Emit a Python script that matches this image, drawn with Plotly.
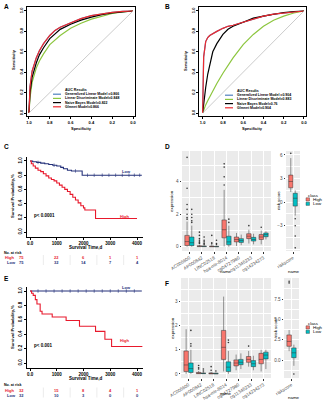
import plotly.graph_objects as go

W, H = 323, 400
FONT = "Liberation Sans, Arial, sans-serif"

# ---------------- ROC data (A, B) ----------------
spec = [1.0, 0.99, 0.97, 0.95, 0.93, 0.90, 0.86, 0.80, 0.75, 0.70, 0.60, 0.50, 0.40, 0.30, 0.20, 0.10, 0.0]
model_names = ["Generalized Linear Model ", "Linear Discriminate Model", "Naive Bayes Model", "Glmnet Model"]
model_colors = ["#4F81BD", "#8CC63E", "#000000", "#EE2A2F"]
auc_a = ["0.866", "0.848", "0.822", "0.866"]
auc_b = ["0.904", "0.883", "0.76", "0.904"]
sens_a_glm = [0, 0.26, 0.41, 0.48, 0.54, 0.61, 0.68, 0.76, 0.81, 0.84, 0.885, 0.925, 0.955, 0.972, 0.987, 0.996, 1.0]
sens_a_lda = [0, 0.15, 0.30, 0.38, 0.44, 0.51, 0.58, 0.67, 0.72, 0.76, 0.83, 0.88, 0.92, 0.95, 0.975, 0.99, 1.0]
sens_a_nb = [0, 0.20, 0.35, 0.43, 0.49, 0.57, 0.64, 0.73, 0.78, 0.82, 0.87, 0.91, 0.94, 0.965, 0.98, 0.993, 1.0]
sens_a_glmnet = [0, 0.26, 0.41, 0.48, 0.54, 0.61, 0.68, 0.76, 0.81, 0.84, 0.885, 0.925, 0.955, 0.972, 0.987, 0.996, 1.0]
sens_b_glm = [0, 0.55, 0.70, 0.74, 0.76, 0.78, 0.80, 0.83, 0.85, 0.86, 0.89, 0.92, 0.95, 0.97, 0.98, 0.995, 1.0]
sens_b_lda = [0, 0.03, 0.08, 0.12, 0.16, 0.22, 0.29, 0.39, 0.47, 0.54, 0.67, 0.77, 0.85, 0.91, 0.95, 0.98, 1.0]
sens_b_nb = [0, 0.10, 0.25, 0.38, 0.48, 0.60, 0.68, 0.77, 0.82, 0.85, 0.89, 0.93, 0.95, 0.97, 0.985, 0.995, 1.0]
sens_b_glmnet = [0, 0.55, 0.70, 0.74, 0.76, 0.78, 0.80, 0.83, 0.85, 0.86, 0.89, 0.92, 0.95, 0.97, 0.98, 0.995, 1.0]
roc_ticks = [1.0, 0.8, 0.6, 0.4, 0.2, 0.0]
roc_ticktext = ["1.0", "0.8", "0.6", "0.4", "0.2", "0.0"]
roc_yticks = [0.0, 0.2, 0.4, 0.6, 0.8, 1.0]
roc_yticktext = ["0.0", "0.2", "0.4", "0.6", "0.8", "1.0"]

# ---------------- KM data (C, E) ----------------
km_c_high_t = [0, 50, 120, 200, 300, 400, 500, 600, 700, 800, 900, 1000, 1100, 1200, 1300, 1400,
               1500, 1600, 1700, 1800, 1900, 2000, 2050, 2450, 4000]
km_c_high_s = [1.0, 0.96, 0.93, 0.90, 0.87, 0.85, 0.82, 0.79, 0.76, 0.74, 0.72, 0.69, 0.66, 0.63, 0.60, 0.57,
               0.53, 0.49, 0.45, 0.41, 0.37, 0.34, 0.31, 0.19, 0.19]
km_c_low_t = [0, 100, 250, 400, 550, 700, 850, 1000, 1150, 1250, 1400, 1550, 1950, 4180]
km_c_low_s = [1.0, 0.99, 0.98, 0.97, 0.96, 0.95, 0.94, 0.93, 0.91, 0.89, 0.87, 0.86, 0.80, 0.80]
km_c_low_cens_t = [300, 900, 1700, 2150, 2400, 2700, 2950, 3200, 3450, 3700, 3900, 4100]
km_c_low_cens_s = [0.98, 0.94, 0.86, 0.80, 0.80, 0.80, 0.80, 0.80, 0.80, 0.80, 0.80, 0.80]
km_e_high_t = [0, 60, 120, 200, 260, 380, 450, 830, 1350, 1850, 2450, 2800, 3050, 4200]
km_e_high_s = [1.0, 0.97, 0.94, 0.88, 0.82, 0.72, 0.68, 0.64, 0.59, 0.51, 0.44, 0.33, 0.23, 0.23]
km_e_low_t = [0, 4180]
km_e_low_s = [1.0, 1.0]
km_e_low_cens_t = [300, 600, 900, 1200, 1500, 1800, 2100, 2400, 2700, 3000, 3300, 3600, 3900]
km_e_low_cens_s = [1.0] * 13
km_xticks = [0, 1000, 2000, 3000, 4000]
km_xticktext = ["0.0", "1000", "2000", "3000", "4000"]
km_yticks = [0.0, 0.2, 0.4, 0.6, 0.8, 1.0]
km_yticktext = ["0.0", "0.2", "0.4", "0.6", "0.8", "1.0"]
risk_c_high = [75, 22, 6, 1, 1]
risk_c_low = [75, 32, 14, 7, 4]
risk_e_high = [32, 15, 8, 4, 1]
risk_e_low = [32, 10, 3, 0, 0]
pval_c = "p< 0.0001"
pval_e = "p< 0.001"

# ---------------- Boxplot data (D, F) ----------------
genes = ["AC006600", "AP000842", "LINC02518", "hsa-mir-8014", "cg04727980", "cg11346233", "cg14234273"]
# each: [lowerfence, q1, median, q3, upperfence]
d_high = [[0.0, 0.08, 0.32, 0.70, 1.55], [0.0, 0.01, 0.03, 0.06, 0.12], [0.0, 0.0, 0.02, 0.04, 0.09],
          [0.02, 0.55, 1.05, 1.65, 3.5], [0.05, 0.30, 0.45, 0.60, 0.85], [0.20, 0.50, 0.65, 0.80, 1.05],
          [0.15, 0.45, 0.60, 0.75, 1.0]]
d_low = [[0.0, 0.07, 0.25, 0.60, 1.3], [0.0, 0.01, 0.02, 0.05, 0.10], [0.0, 0.0, 0.01, 0.03, 0.07],
         [0.0, 0.12, 0.30, 0.65, 1.3], [0.10, 0.27, 0.38, 0.50, 0.75], [0.15, 0.35, 0.45, 0.58, 0.80],
         [0.45, 0.62, 0.75, 0.85, 0.95]]
d_high_out = [[5.5, 3.6, 2.6, 2.3, 2.0, 1.8, 1.7], [0.9, 0.7, 0.5, 0.4, 0.3, 0.25, 0.2], [0.7, 0.25, 0.18],
              [5.1, 4.9, 4.3, 3.8], [], [1.3], [1.2]]
d_low_out = [[2.3, 2.0, 1.8, 1.6, 1.5], [0.6, 0.4, 0.3, 0.2, 0.15], [0.4, 0.2, 0.15], [1.7, 1.5], [], [], []]
d_risk_high = [1.3, 1.83, 2.63, 3.44, 5.6]
d_risk_low = [-1.7, -0.5, 0.5, 1.13, 1.5]
d_risk_high_out = [6.2]
d_risk_low_out = [-2.1, -3.0, -4.3, -5.8]

f_high = [[0.0, 0.10, 0.37, 0.95, 1.85], [0.0, 0.01, 0.03, 0.06, 0.12], [0.0, 0.0, 0.02, 0.04, 0.08],
          [0.10, 0.60, 1.10, 1.80, 3.2], [0.15, 0.33, 0.45, 0.58, 0.80], [0.30, 0.48, 0.60, 0.72, 0.95],
          [0.10, 0.42, 0.60, 0.85, 1.0]]
f_low = [[0.0, 0.06, 0.22, 0.45, 1.0], [0.0, 0.01, 0.02, 0.04, 0.08], [0.0, 0.0, 0.01, 0.03, 0.06],
         [0.0, 0.10, 0.28, 0.50, 0.95], [0.20, 0.38, 0.48, 0.60, 0.85], [0.15, 0.30, 0.42, 0.55, 0.75],
         [0.20, 0.62, 0.78, 0.90, 1.0]]
f_high_out = [[], [0.35, 0.25, 0.2], [0.3, 0.15], [], [], [1.15], []]
f_low_out = [[1.8, 1.25, 1.15], [0.2, 0.12], [0.12], [1.4, 1.3], [], [], []]
f_risk_high = [1.1, 1.7, 2.3, 3.1, 3.7]
f_risk_low = [-0.7, 0.3, 0.9, 1.5, 1.9]
f_risk_high_out = [9.7, 9.5]
f_risk_low_out = [-1.7]

classes = ["High", "Low"]
class_colors = ["#F8766D", "#00BFC4"]
km_colors = {"High": "#E8192C", "Low": "#24317A"}

# ---------------- helpers ----------------
def fx(p):
    return p / W


def fy(p):
    return 1 - p / H


fig = go.Figure()
annotations = []
shapes = []


def txt(text, x, y, size=4.5, color="black", bold=True, xanchor="center", yanchor="middle", angle=0,
        xref="paper", yref="paper", xshift=0):
    annotations.append(dict(
        text=text, x=x if xref != "paper" else fx(x), y=fy(y) if yref == "paper" else y,
        xref=xref, yref=yref, showarrow=False, xanchor=xanchor, yanchor=yanchor, textangle=angle,
        xshift=xshift,
        font=dict(family=FONT, size=size, color=color, weight="bold" if bold else "normal")))


# ---------------- ROC panels ----------------
roc_sets = [
    ("x", "y", [sens_a_glm, sens_a_lda, sens_a_nb, sens_a_glmnet]),
    ("x2", "y2", [sens_b_glm, sens_b_lda, sens_b_nb, sens_b_glmnet]),
]
for xa, ya, sens_list in roc_sets:
    shapes.append(dict(type="line", xref=xa, yref=ya, x0=1, y0=0, x1=0, y1=1,
                       line=dict(color="#BEBEBE", width=0.8)))
    for sens, col in zip(sens_list, model_colors):
        fig.add_trace(go.Scatter(x=spec, y=sens, mode="lines", xaxis=xa, yaxis=ya,
                                 line=dict(color=col, width=1.2), showlegend=False, hoverinfo="skip"))

# ---------------- KM panels ----------------
def km(xa, ya, t, s, color):
    fig.add_trace(go.Scatter(x=t, y=s, mode="lines", line=dict(color=color, width=1.1, shape="hv"),
                             xaxis=xa, yaxis=ya, showlegend=False, hoverinfo="skip"))


km("x3", "y3", km_c_low_t, km_c_low_s, km_colors["Low"])
km("x3", "y3", km_c_high_t, km_c_high_s, km_colors["High"])
fig.add_trace(go.Scatter(x=km_c_low_cens_t, y=km_c_low_cens_s, mode="markers", xaxis="x3", yaxis="y3",
                         marker=dict(symbol="line-ns", size=2.5, line=dict(color=km_colors["Low"], width=0.6)),
                         showlegend=False, hoverinfo="skip"))
km("x4", "y4", km_e_low_t, km_e_low_s, km_colors["Low"])
km("x4", "y4", km_e_high_t, km_e_high_s, km_colors["High"])
fig.add_trace(go.Scatter(x=km_e_low_cens_t, y=km_e_low_cens_s, mode="markers", xaxis="x4", yaxis="y4",
                         marker=dict(symbol="line-ns", size=2.5, line=dict(color=km_colors["Low"], width=0.6)),
                         showlegend=False, hoverinfo="skip"))

# ---------------- Box panels ----------------
gene_pos = list(range(1, len(genes) + 1))
dodge = 0.19


def boxes(xa, ya, positions, stats, outs, color):
    fig.add_trace(go.Box(
        x=positions, lowerfence=[s[0] for s in stats], q1=[s[1] for s in stats],
        median=[s[2] for s in stats], q3=[s[3] for s in stats], upperfence=[s[4] for s in stats],
        xaxis=xa, yaxis=ya, width=0.36, whiskerwidth=0, fillcolor=color,
        line=dict(color="#333333", width=0.5), boxpoints=False, showlegend=False, hoverinfo="skip"))
    ox, oy = [], []
    for p, o in zip(positions, outs):
        ox += [p] * len(o)
        oy += o
    fig.add_trace(go.Scatter(x=ox, y=oy, mode="markers", xaxis=xa, yaxis=ya,
                             marker=dict(size=1.6, color="#333333"), showlegend=False, hoverinfo="skip"))


pos_high = [p - dodge for p in gene_pos]
pos_low = [p + dodge for p in gene_pos]
boxes("x5", "y5", pos_high, d_high, d_high_out, class_colors[0])
boxes("x5", "y5", pos_low, d_low, d_low_out, class_colors[1])
boxes("x6", "y6", [1 - dodge], [d_risk_high], [d_risk_high_out], class_colors[0])
boxes("x6", "y6", [1 + dodge], [d_risk_low], [d_risk_low_out], class_colors[1])
boxes("x7", "y7", pos_high, f_high, f_high_out, class_colors[0])
boxes("x7", "y7", pos_low, f_low, f_low_out, class_colors[1])
boxes("x8", "y8", [1 - dodge], [f_risk_high], [f_risk_high_out], class_colors[0])
boxes("x8", "y8", [1 + dodge], [f_risk_low], [f_risk_low_out], class_colors[1])

# ---------------- axes ----------------
bold_tick = dict(family=FONT, size=4, color="black", weight="bold")
roc_common = dict(showline=True, mirror=True, linecolor="black", linewidth=0.7, ticks="outside",
                  ticklen=2, tickwidth=0.5, tickcolor="black", showgrid=False, zeroline=False,
                  tickfont=bold_tick, automargin=False)
layout_axes = {}
layout_axes["xaxis"] = dict(domain=[fx(27), fx(135)], range=[1.019, -0.019], tickvals=roc_ticks,
                            ticktext=roc_ticktext, anchor="y", **roc_common)
layout_axes["yaxis"] = dict(domain=[fy(116), fy(7)], range=[-0.029, 1.039], tickvals=roc_yticks,
                            ticktext=roc_yticktext, tickangle=-90, anchor="x", **roc_common)
layout_axes["xaxis2"] = dict(domain=[fx(199), fx(306)], range=[1.036, -0.02], tickvals=roc_ticks,
                             ticktext=roc_ticktext, anchor="y2", **roc_common)
layout_axes["yaxis2"] = dict(domain=[fy(116), fy(7)], range=[-0.029, 1.039], tickvals=roc_yticks,
                             ticktext=roc_yticktext, tickangle=-90, anchor="x2", **roc_common)

km_common = dict(showline=True, linecolor="black", linewidth=0.9, ticks="outside", ticklen=2,
                 tickwidth=0.7, tickcolor="black", showgrid=False, zeroline=False,
                 tickfont=dict(family=FONT, size=4.5, color="black", weight="bold"), automargin=False)
layout_axes["xaxis3"] = dict(domain=[fx(27), fx(143)], range=[-112, 4224], tickvals=km_xticks,
                             ticktext=km_xticktext, anchor="y3", **km_common)
layout_axes["yaxis3"] = dict(domain=[fy(237), fy(157)], range=[-0.07, 1.056], tickvals=km_yticks,
                             ticktext=km_yticktext, tickangle=-90, anchor="x3", **km_common)
layout_axes["xaxis4"] = dict(domain=[fx(27), fx(143)], range=[-112, 4224], tickvals=km_xticks,
                             ticktext=km_xticktext, anchor="y4", **km_common)
layout_axes["yaxis4"] = dict(domain=[fy(368), fy(287)], range=[-0.069, 1.056], tickvals=km_yticks,
                             ticktext=km_yticktext, tickangle=-90, anchor="x4", **km_common)

gg_tick = dict(family=FONT, size=4.6, color="#4D4D4D")
gg_common = dict(showline=False, ticks="outside", ticklen=1.5, tickwidth=0.4, tickcolor="#333333",
                 showgrid=True, gridcolor="white", gridwidth=0.6, zeroline=False, tickfont=gg_tick,
                 automargin=False)
gg_minor = dict(showgrid=True, gridcolor="white", gridwidth=0.3, ticks="")
layout_axes["xaxis5"] = dict(domain=[fx(182), fx(271)], range=[0.4, 7.6], tickvals=gene_pos, ticktext=genes,
                             tickangle=-32, anchor="y5", **gg_common)
layout_axes["yaxis5"] = dict(domain=[fy(251), fy(151)], range=[-0.26, 5.89], tickvals=[0, 2, 4],
                             minor=dict(dtick=1, tick0=0, **gg_minor), anchor="x5", **gg_common)
layout_axes["xaxis6"] = dict(domain=[fx(286), fx(300)], range=[0.4, 1.6], tickvals=[1], ticktext=["riskscore"],
                             tickangle=-32, anchor="y6", **gg_common)
layout_axes["yaxis6"] = dict(domain=[fy(251), fy(151)], range=[-6.2, 6.5], tickvals=[-3, 0, 3, 6],
                             minor=dict(dtick=1.5, tick0=0, **gg_minor), anchor="x6", **gg_common)
layout_axes["xaxis7"] = dict(domain=[fx(181), fx(271)], range=[0.4, 7.6], tickvals=gene_pos, ticktext=genes,
                             tickangle=-32, anchor="y7", **gg_common)
layout_axes["yaxis7"] = dict(domain=[fy(378), fy(278)], range=[-0.17, 3.97], tickvals=[0, 1, 2, 3],
                             minor=dict(dtick=0.5, tick0=0, **gg_minor), anchor="x7", **gg_common)
layout_axes["xaxis8"] = dict(domain=[fx(284), fx(299)], range=[0.4, 1.6], tickvals=[1], ticktext=["riskscore"],
                             tickangle=-32, anchor="y8", **gg_common)
layout_axes["yaxis8"] = dict(domain=[fy(378), fy(278)], range=[-2.2, 10.1], tickvals=[0, 2.5, 5, 7.5],
                             ticktext=["0.0", "2.5", "5.0", "7.5"],
                             minor=dict(dtick=1.25, tick0=0, **gg_minor), anchor="x8", **gg_common)

for k in ["5", "6", "7", "8"]:
    shapes.append(dict(type="rect", xref=f"x{k} domain", yref=f"y{k} domain", x0=0, x1=1, y0=0, y1=1,
                       fillcolor="#EBEBEB", line=dict(width=0), layer="below"))

# ---------------- text: panel letters & titles ----------------
txt("A", 2, 6, size=6.5, xanchor="left")
txt("B", 163, 6, size=6.5, xanchor="left")
txt("C", 2, 146, size=6.5, xanchor="left")
txt("D", 163, 146, size=6.5, xanchor="left")
txt("E", 2, 278, size=6.5, xanchor="left")
txt("F", 163, 283, size=6.5, xanchor="left")

for xs, xc in [(13, 81), (185, 252)]:
    txt("Sensitivity", xs, 60, size=4, angle=-90)
    txt("Specificity", xc, 128, size=4)

# ROC legends
for (x_sw, x_tx, y0, aucs) in [(53, 63, 90, auc_a), (225, 235, 91, auc_b)]:
    txt("AUC Results", x_tx, y0, size=3.6, xanchor="left")
    for i, (nm, col, a) in enumerate(zip(model_names, model_colors, aucs)):
        yy = y0 + 4.2 * (i + 1)
        shapes.append(dict(type="line", xref="paper", yref="paper", x0=fx(x_sw), x1=fx(x_sw + 8),
                           y0=fy(yy), y1=fy(yy), line=dict(color=col, width=1.2)))
        txt(f"{nm}={a}", x_tx, yy, size=3.5, xanchor="left")

# KM texts
for (ytitle, xlab_y, plow, phigh, pv, pv_y, xa, y_na, rh, rl) in [
        (196, 247, 172, 216, pval_c, 215, "x3", 252.5, risk_c_high, risk_c_low),
        (327, 378.5, 287, 340, pval_e, 345, "x4", 385, risk_e_high, risk_e_low)]:
    txt("Survival Probability,%", 12, ytitle, size=4.2, angle=-90)
    txt("Survival Time,d", 85, xlab_y, size=4.5)
    txt("Low", 126, plow, size=4, color=km_colors["Low"])
    txt("High", 124, phigh, size=4, color=km_colors["High"])
    txt(pv, 32, pv_y, size=4.5, xanchor="left")
    txt("No. at risk", 2, y_na, size=3.6, xanchor="left")
    txt("High", 3, y_na + 5, size=4, color=km_colors["High"], xanchor="left")
    txt("Low", 5, y_na + 10, size=4, color=km_colors["Low"], xanchor="left")
    for i, (t, a, b) in enumerate(zip(km_xticks, rh, rl)):
        sh = -8 if i == 0 else 0
        txt(str(a), t, y_na + 5, size=4, color=km_colors["High"], xref=xa, xshift=sh)
        txt(str(b), t, y_na + 10, size=4, color=km_colors["Low"], xref=xa, xshift=sh)
    for t in [500, 1500, 2500, 3500]:
        shapes.append(dict(type="line", xref=xa, yref="paper", x0=t, x1=t, y0=fy(y_na + 2.5),
                           y1=fy(y_na + 12.5), line=dict(color="#D0D0D0", width=0.4)))

# ggplot texts
for (ymid, ybot_l, ybot_r, xr_lab, ytop_leg) in [(201, 271, 271, 279, 195), (328, 393, 397, 275, 323)]:
    txt("expression", 172, ymid, size=4.4, bold=False, color="black", angle=-90)
    txt("risk score", xr_lab, ymid, size=4.4, bold=False, color="black", angle=-90)
    txt("name", 226, ybot_l, size=4.4, bold=False)
    txt("name", 294, ybot_r, size=4.4, bold=False)
    txt("class", 306, ytop_leg, size=4.4, bold=False, xanchor="left")
    for i, (c, col) in enumerate(zip(classes, class_colors)):
        yy = ytop_leg + 4.4 * (i + 1)
        shapes.append(dict(type="rect", xref="paper", yref="paper", x0=fx(306), x1=fx(309.5),
                           y0=fy(yy + 1.6), y1=fy(yy - 1.6), fillcolor=col,
                           line=dict(color="#333333", width=0.4)))
        txt(c, 311, yy, size=4.4, bold=False, xanchor="left")

fig.update_layout(
    width=W, height=H, margin=dict(l=0, r=0, t=0, b=0), paper_bgcolor="white", plot_bgcolor="white",
    showlegend=False, boxmode="overlay", annotations=annotations, shapes=shapes,
    font=dict(family=FONT), **layout_axes)

fig.write_html("out.html", config={"displayModeBar": False},
               post_script="document.body.style.margin='0';document.body.style.padding='0';"
                           "document.body.style.overflow='hidden';")
